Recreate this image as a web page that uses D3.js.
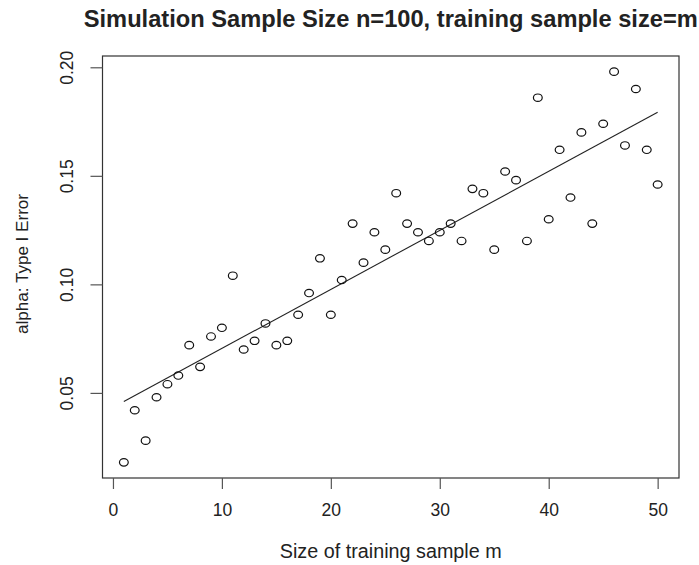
<!DOCTYPE html>
<html>
<head>
<meta charset="utf-8">
<script src="https://cdn.jsdelivr.net/npm/d3@7"></script>
<style>
  html, body { margin: 0; padding: 0; background: #fff; }
  svg { display: block; }
  text { font-family: "Liberation Sans", Arial, Helvetica, sans-serif; fill: #222; }
</style>
</head>
<body>
<svg id="chart" width="699" height="565"></svg>
<script>
// Training sample size m
const sizes = d3.range(1, 51);
// Type I error rate observed at each m
const alphaValues = [
  0.018, 0.042, 0.028, 0.048, 0.054, 0.058, 0.072, 0.062, 0.076, 0.080,
  0.104, 0.070, 0.074, 0.082, 0.072, 0.074, 0.086, 0.096, 0.112, 0.086,
  0.102, 0.128, 0.110, 0.124, 0.116, 0.142, 0.128, 0.124, 0.120, 0.124,
  0.128, 0.120, 0.144, 0.142, 0.116, 0.152, 0.148, 0.120, 0.186, 0.130,
  0.162, 0.140, 0.170, 0.128, 0.174, 0.198, 0.164, 0.190, 0.162, 0.146
];
const xTicks = [0, 10, 20, 30, 40, 50];
const yTicks = [0.05, 0.10, 0.15, 0.20];
const titleText = "Simulation Sample Size n=100, training sample size=m";
const xLabel = "Size of training sample m";
const yLabel = "alpha: Type I Error";

const svg = d3.select("#chart");
const plot = { left: 102.5, right: 679, top: 56, bottom: 478 };

// R-style 4% padding around the data range
const xExt = d3.extent(sizes), yExt = d3.extent(alphaValues);
const xPad = (xExt[1] - xExt[0]) * 0.04, yPad = (yExt[1] - yExt[0]) * 0.04;
const x = d3.scaleLinear().domain([xExt[0] - xPad, xExt[1] + xPad]).range([plot.left, plot.right]);
const y = d3.scaleLinear().domain([yExt[0] - yPad, yExt[1] + yPad]).range([plot.bottom, plot.top]);

// Frame
svg.append("rect")
  .attr("x", plot.left).attr("y", plot.top)
  .attr("width", plot.right - plot.left).attr("height", plot.bottom - plot.top)
  .attr("fill", "none").attr("stroke", "#333").attr("stroke-width", 1.2);

// X axis
const xAxis = svg.append("g")
  .attr("transform", `translate(0,${plot.bottom})`)
  .call(d3.axisBottom(x).tickValues(xTicks).tickSize(11).tickPadding(15).tickFormat(d3.format("d")));
xAxis.select(".domain")
  .attr("d", `M${x(xTicks[0])},0H${x(xTicks[xTicks.length - 1])}`)
  .attr("stroke", "none");
xAxis.selectAll(".tick line").attr("stroke", "#555").attr("stroke-width", 1.2);
xAxis.selectAll(".tick text")
  .style("font-family", "'Liberation Sans', Arial, sans-serif")
  .style("font-size", "17.5px").attr("fill", "#222");

// Y axis with labels rotated parallel to the axis
const yAxis = svg.append("g")
  .attr("transform", `translate(${plot.left},0)`)
  .call(d3.axisLeft(y).tickValues(yTicks).tickSize(12).tickFormat(d3.format(".2f")));
yAxis.select(".domain").attr("stroke", "none");
yAxis.selectAll(".tick line").attr("stroke", "#555").attr("stroke-width", 1.2);
yAxis.selectAll(".tick text")
  .attr("x", null).attr("dy", null)
  .attr("transform", "translate(-36,0) rotate(-90)")
  .attr("text-anchor", "middle")
  .attr("dominant-baseline", "central")
  .style("font-family", "'Liberation Sans', Arial, sans-serif")
  .style("font-size", "17.5px").attr("fill", "#222");

// Least-squares fit line
const mx = d3.mean(sizes), my = d3.mean(alphaValues);
const sxy = d3.sum(sizes, (m, i) => (m - mx) * (alphaValues[i] - my));
const sxx = d3.sum(sizes, m => (m - mx) * (m - mx));
const slope = sxy / sxx, intercept = my - slope * mx;
const fitLine = d3.line().x(m => x(m)).y(m => y(intercept + slope * m));
svg.append("path")
  .attr("d", fitLine(xExt))
  .attr("fill", "none").attr("stroke", "#222").attr("stroke-width", 1.1);

// Points (open circles)
svg.append("g").selectAll("ellipse")
  .data(sizes.map((m, i) => ({ m, a: alphaValues[i] })))
  .join("ellipse")
  .attr("cx", d => x(d.m)).attr("cy", d => y(d.a))
  .attr("rx", 4.4).attr("ry", 3.7)
  .attr("fill", "none").attr("stroke", "#111").attr("stroke-width", 1.2);

// Scale a text's font so it spans the given width
function fitWidth(sel, base, width) {
  sel.style("font-size", base + "px");
  const w = sel.node().getComputedTextLength();
  sel.style("font-size", (base * width / w).toFixed(2) + "px");
  return sel;
}

// Title
const cx = (plot.left + plot.right) / 2;
const title = svg.append("text")
  .attr("x", cx).attr("y", 27).attr("text-anchor", "middle")
  .style("font-weight", "bold")
  .text(titleText);
fitWidth(title, 20, 614);

// Axis titles
fitWidth(svg.append("text")
  .attr("x", cx).attr("y", 558).attr("text-anchor", "middle")
  .text(xLabel), 18, 222);
fitWidth(svg.append("text")
  .attr("transform", `translate(28,${(plot.top + plot.bottom) / 2 - 3}) rotate(-90)`)
  .attr("text-anchor", "middle")
  .text(yLabel), 18, 140);
</script>
</body>
</html>
